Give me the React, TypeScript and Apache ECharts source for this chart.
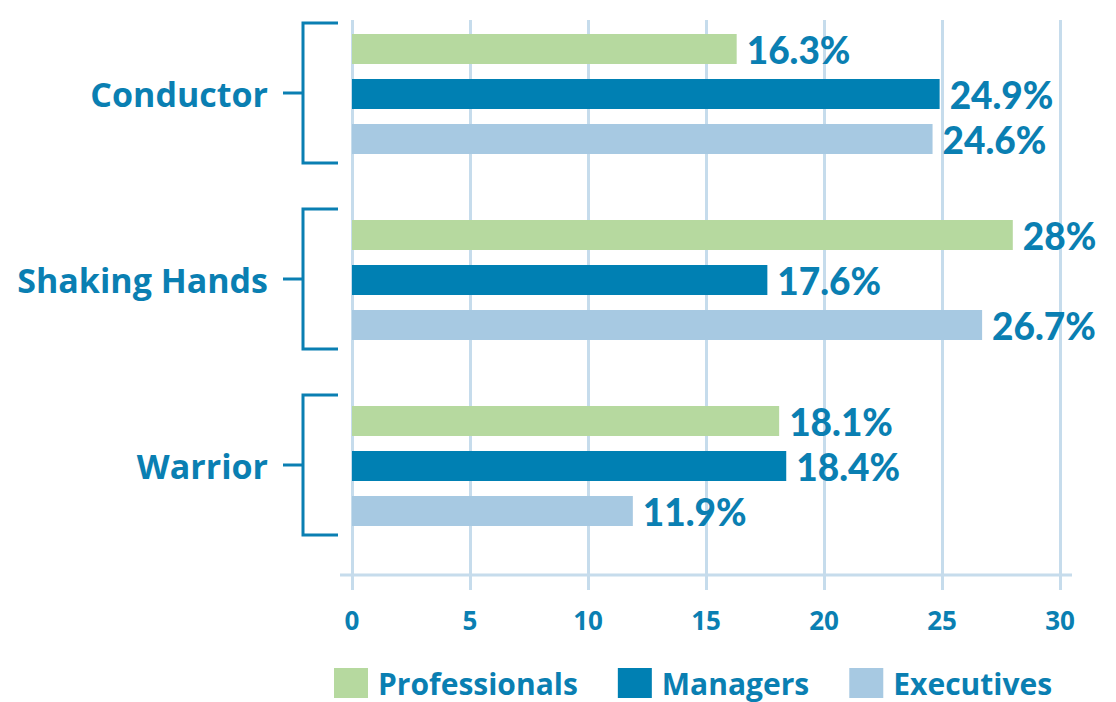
import React, { useEffect, useRef } from "react";
import * as echarts from "echarts";

const categories = ["Conductor", "Shaking Hands", "Warrior"];
const seriesNames = ["Professionals", "Managers", "Executives"];
const professionals = [16.3, 28, 18.1];
const managers = [24.9, 17.6, 18.4];
const executives = [24.6, 26.7, 11.9];
const xTicks = [0, 5, 10, 15, 20, 25, 30];

const BLUE_TEXT = "#0a7fb2";
const GRID_COLOR = "#c6dcec";
const COLORS = ["#b6d99f", "#0080b3", "#a7c9e2"];

export default function App() {
  const ref = useRef<HTMLDivElement>(null);
  useEffect(() => {
    if (!ref.current) return;
    const chart = echarts.init(ref.current, undefined, { renderer: "svg" });
    const values = [professionals, managers, executives];
    const xMin = xTicks[0];
    const xMax = xTicks[xTicks.length - 1];
    const option: any = {
      animation: false,
      backgroundColor: "#ffffff",
      grid: [
        { left: 352, width: 708, top: 1, height: 558 },
        { left: 352, width: 708, top: 20, height: 555 },
      ],
      xAxis: [
        {
          gridIndex: 0,
          type: "value",
          min: xMin,
          max: xMax,
          show: false,
        },
        {
          gridIndex: 1,
          type: "value",
          min: xMin,
          max: xMax,
          interval: 5,
          axisLine: { show: false },
          axisTick: {
            show: true,
            length: 15,
            lineStyle: { color: GRID_COLOR, width: 3 },
          },
          splitLine: { show: true, lineStyle: { color: GRID_COLOR, width: 3 } },
          axisLabel: {
            margin: 32,
            color: BLUE_TEXT,
            fontFamily: "Open Sans",
            fontWeight: "bold",
            fontSize: 26,
            formatter: (v: number) => String(v),
          },
        },
      ],
      yAxis: [
        {
          gridIndex: 0,
          type: "category",
          data: categories,
          inverse: true,
          axisLine: { show: false },
          axisTick: { show: false },
          axisLabel: {
            margin: 84,
            color: BLUE_TEXT,
            fontFamily: "Open Sans",
            fontWeight: "bold",
            fontSize: 34,
            lineHeight: 34,
            padding: [0, 0, 6, 0],
          },
        },
        {
          gridIndex: 1,
          type: "value",
          show: false,
        },
      ],
      legend: {
        data: seriesNames,
        left: 334,
        top: 668,
        padding: 0,
        icon: "rect",
        itemWidth: 34,
        itemHeight: 30,
        itemGap: 40,
        textStyle: {
          color: BLUE_TEXT,
          fontFamily: "Open Sans",
          fontWeight: "bold",
          fontSize: 30,
          padding: [0, 0, 0, 5],
        },
      },
      series: seriesNames.map((name, i) => ({
        name,
        type: "bar",
        xAxisIndex: 0,
        yAxisIndex: 0,
        data: values[i],
        barWidth: 30,
        barGap: "50%",
        itemStyle: { color: COLORS[i] },
        label: {
          show: true,
          position: "right",
          distance: 10,
          formatter: "{c}%",
          color: BLUE_TEXT,
          fontFamily: "Lato",
          fontWeight: 900,
          fontSize: 37,
        },
      })),
    };
    chart.setOption(option);

    const graphics: any[] = [
      {
        type: "line",
        shape: { x1: 340, y1: 575, x2: 1072, y2: 575 },
        style: { stroke: GRID_COLOR, lineWidth: 3 },
        z: 1,
      },
    ];
    categories.forEach((c) => {
      const cy = chart.convertToPixel({ yAxisIndex: 0 }, c) as number;
      graphics.push({
        type: "polyline",
        shape: {
          points: [
            [338, cy - 71],
            [303, cy - 71],
            [303, cy + 69],
            [338, cy + 69],
          ],
        },
        style: { stroke: BLUE_TEXT, lineWidth: 3, fill: "none" },
      });
      graphics.push({
        type: "line",
        shape: { x1: 283, y1: cy - 1, x2: 303, y2: cy - 1 },
        style: { stroke: BLUE_TEXT, lineWidth: 3 },
      });
    });
    chart.setOption({ graphic: graphics });

    return () => chart.dispose();
  }, []);
  return (
    <div
      ref={ref}
      style={{ position: "fixed", left: 0, top: 0, width: 1116, height: 702 }}
    />
  );
}
